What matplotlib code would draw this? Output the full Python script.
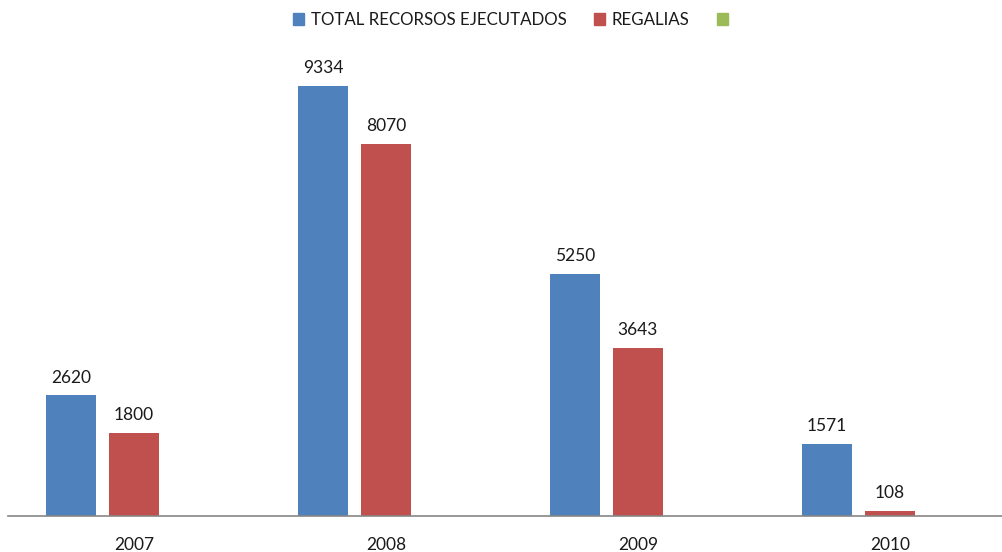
import matplotlib.pyplot as plt
import numpy as np
from matplotlib.patches import Patch

years = ['2007', '2008', '2009', '2010']
total = [2620, 9334, 5250, 1571]
regalias = [1800, 8070, 3643, 108]
series_names = ['TOTAL RECORSOS EJECUTADOS', 'REGALIAS', '']
colors = ['#4F81BD', '#C0504D', '#9BBB59']

plt.rcParams['font.family'] = ['Lato', 'DejaVu Sans']

fig = plt.figure(figsize=(10.03, 5.52), dpi=100)
# axes from x=8px to right edge, baseline at y=516px
ax = fig.add_axes([8 / 1003, 36 / 552, 995 / 1003, 476 / 552])

x = np.arange(len(years))
w = 0.198
b1 = ax.bar(x - 0.25, total, w, color=colors[0])
b2 = ax.bar(x, regalias, w, color=colors[1])

for bars, vals in ((b1, total), (b2, regalias)):
    for rect, v in zip(bars, vals):
        ax.annotate(str(v), (rect.get_x() + rect.get_width() / 2, v),
                    xytext=(0, 7), textcoords='offset points',
                    ha='center', va='bottom', fontsize=12.5, color='#1a1a1a')

ax.set_xlim(-0.5, (1003 - 134) / 252)
ax.set_ylim(0, 476 / 0.04607)
ax.set_xticks(x)
ax.set_xticklabels(years, fontsize=12.5, color='#1a1a1a')
ax.tick_params(axis='x', length=0, pad=15)
ax.set_yticks([])
for s in ['top', 'right', 'left']:
    ax.spines[s].set_visible(False)
ax.spines['bottom'].set_color('#868686')
ax.spines['bottom'].set_linewidth(1.2)

handles = [Patch(color=c) for c in colors]
fig.legend(handles, series_names, loc='center', bbox_to_anchor=(514 / 1003, 1 - 20 / 552),
           ncol=3, frameon=False, fontsize=12.2, handlelength=0.65, handleheight=0.65,
           handletextpad=0.4, columnspacing=1.6, labelcolor='#1a1a1a')

plt.savefig('out.png', dpi=100)
